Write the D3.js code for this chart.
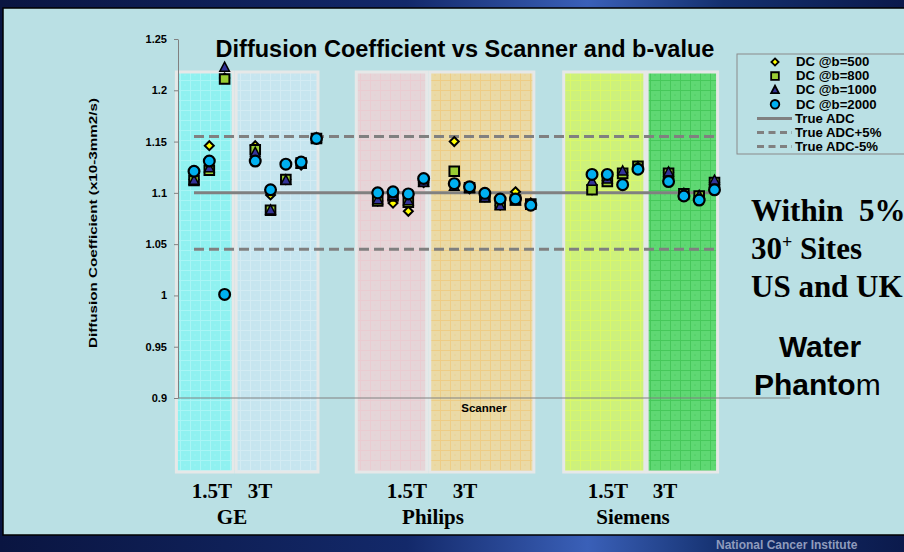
<!DOCTYPE html>
<html>
<head>
<meta charset="utf-8">
<script src="https://cdn.jsdelivr.net/npm/d3@7"></script>
<style>
body { margin: 0; background: #0b1a4a; }
svg { display: block; }
</style>
</head>
<body>
<svg class="chart" width="904" height="552"></svg>
<script>
// category slot of each site on the x axis (empty slots separate the scanners)
var slot = [0, 1, 2, 4, 5, 6, 7, 8, 12, 13, 14, 15, 17, 18, 19, 20, 21, 22, 26, 27, 28, 29, 31, 32, 33, 34];
var dc500  = [1.113, 1.146, 1.212, 1.146, 1.098, 1.113, 1.127, 1.153, 1.092, 1.090, 1.082, 1.110, 1.150, 1.104, 1.096, 1.088, 1.101, 1.090, 1.103, 1.112, 1.120, 1.125, 1.120, 1.099, 1.097, 1.110];
var dc800  = [1.112, 1.122, 1.211, 1.142, 1.083, 1.113, 1.129, 1.153, 1.092, 1.097, 1.091, 1.111, 1.121, 1.105, 1.096, 1.089, 1.093, 1.089, 1.103, 1.111, 1.119, 1.126, 1.119, 1.099, 1.097, 1.110];
var dc1000 = [1.112, 1.124, 1.222, 1.139, 1.083, 1.112, 1.128, 1.153, 1.093, 1.097, 1.092, 1.110, 1.106, 1.104, 1.095, 1.087, 1.092, 1.089, 1.111, 1.113, 1.121, 1.125, 1.120, 1.099, 1.097, 1.112];
var dc2000 = [1.121, 1.131, 1.001, 1.131, 1.103, 1.128, 1.130, 1.153, 1.100, 1.101, 1.099, 1.114, 1.109, 1.106, 1.0995, 1.094, 1.094, 1.088, 1.118, 1.118, 1.108, 1.123, 1.111, 1.097, 1.093, 1.103];
var trueADC = 1.1;
var yTicks = [0.9, 0.95, 1, 1.05, 1.1, 1.15, 1.2, 1.25];

// background bands, one per scanner and field strength (in slot units)
var bandName = ["GE 1.5T", "GE 3T", "Philips 1.5T", "Philips 3T", "Siemens 1.5T", "Siemens 3T"];
var bandFrom = [-1.15, 2.75, 10.6, 15.4, 24.15, 29.6];
var bandTo   = [2.55, 8.1, 15.2, 22.2, 29.45, 34.2];
var bandFill = ["#8ff1f0", "#c6e5ef", "#e5d5d8", "#eadaa6", "#cdf17c", "#5fd873"];
var bandGrid = ["#b4f6f6", "#d9eef5", "#edc9cf", "#f0c878", "#e0fb60", "#3cc250"];

var svg = d3.select(".chart");

// slide frame
var defs = svg.append("defs");
var grad = defs.append("linearGradient").attr("id", "slidebg");
grad.append("stop").attr("offset", "0%").attr("stop-color", "#0a1541");
grad.append("stop").attr("offset", "45%").attr("stop-color", "#13296a");
grad.append("stop").attr("offset", "65%").attr("stop-color", "#3a60b8");
grad.append("stop").attr("offset", "80%").attr("stop-color", "#14306e");
grad.append("stop").attr("offset", "100%").attr("stop-color", "#0b1a4c");

svg.append("rect").attr("width", 904).attr("height", 552).attr("fill", "url(#slidebg)");
svg.append("rect")
	.attr("x", 3).attr("y", 8)
	.attr("width", 920).attr("height", 527)
	.attr("fill", "#bae0e4")
	.attr("stroke", "#000")
	.attr("stroke-width", 1.5);

svg.append("text")
	.attr("x", 716).attr("y", 549)
	.attr("font-family", "Liberation Sans, Arial, sans-serif")
	.attr("font-size", 12)
	.attr("font-weight", "bold")
	.attr("fill", "#8f9bbd")
	.text("National Cancer Institute");

var x = d3.scaleLinear().domain([0, 34]).range([194, 714.5]);
var y = d3.scaleLinear().domain([0.9, 1.25]).range([398, 39]);

// grid patterns for the bands
bandName.forEach(function(name, i) {
	var p = defs.append("pattern")
		.attr("id", "band" + i)
		.attr("patternUnits", "userSpaceOnUse")
		.attr("width", 10).attr("height", 10);
	p.append("rect").attr("width", 10).attr("height", 10).attr("fill", bandFill[i]);
	p.append("path")
		.attr("d", "M0,0.5H10M0.5,0V10")
		.attr("stroke", bandGrid[i])
		.attr("stroke-width", 1)
		.attr("opacity", 0.7);
	p.append("circle").attr("cx", 5).attr("cy", 5).attr("r", 0.6).attr("fill", bandGrid[i]);
});

svg.selectAll(".band")
	.data(bandName)
	.enter()
	.append("rect")
	.attr("class", "band")
	.attr("x", (d, i) => x(bandFrom[i]))
	.attr("y", 72)
	.attr("width", (d, i) => x(bandTo[i]) - x(bandFrom[i]))
	.attr("height", 400)
	.attr("fill", (d, i) => "url(#band" + i + ")")
	.attr("stroke", "#e6e8e8")
	.attr("stroke-width", 3);

// y axis
var yAxis = d3.axisLeft(y)
	.tickValues(yTicks)
	.tickFormat(d3.format(""))
	.tickSize(4)
	.tickSizeOuter(0)
	.tickPadding(7);

var gy = svg.append("g")
	.attr("transform", "translate(178,0)")
	.call(yAxis);
gy.select(".domain").attr("stroke", "#808080");
gy.selectAll(".tick line").attr("stroke", "#808080");
gy.selectAll(".tick text")
	.attr("font-family", "Liberation Sans, Arial, sans-serif")
	.attr("font-size", 11)
	.attr("font-weight", "bold")
	.attr("fill", "#000");

svg.append("line")
	.attr("x1", 178).attr("x2", 790)
	.attr("y1", y(0.9)).attr("y2", y(0.9))
	.attr("stroke", "#808080")
	.attr("stroke-width", 1);

svg.append("text")
	.attr("transform", "translate(97," + 223 + ") rotate(-90)")
	.attr("text-anchor", "middle")
	.attr("font-family", "Liberation Sans, Arial, sans-serif")
	.attr("font-size", 11.5)
	.attr("font-weight", "bold")
	.attr("textLength", 250)
	.attr("lengthAdjust", "spacingAndGlyphs")
	.text("Diffusion Coefficient (x10-3mm2/s)");

svg.append("text")
	.attr("x", 484).attr("y", 412)
	.attr("text-anchor", "middle")
	.attr("font-family", "Liberation Sans, Arial, sans-serif")
	.attr("font-size", 11.5)
	.attr("font-weight", "bold")
	.text("Scanner");

svg.append("text")
	.attr("x", 465).attr("y", 57)
	.attr("text-anchor", "middle")
	.attr("font-family", "Liberation Sans, Arial, sans-serif")
	.attr("font-size", 23.5)
	.attr("font-weight", "bold")
	.text("Diffusion Coefficient vs Scanner and b-value");

// reference lines
var refLines = [
	{name: "True ADC", value: trueADC, dash: null},
	{name: "True ADC+5%", value: trueADC * 1.05, dash: "10,5"},
	{name: "True ADC-5%", value: trueADC * 0.95, dash: "10,5"}
];

svg.selectAll(".ref")
	.data(refLines)
	.enter()
	.append("line")
	.attr("class", "ref")
	.attr("x1", x(0)).attr("x2", x(34))
	.attr("y1", d => y(d.value)).attr("y2", d => y(d.value))
	.attr("stroke", "#808080")
	.attr("stroke-width", 3)
	.attr("stroke-dasharray", d => d.dash);

// markers
function diamond(s) { return "M0," + (-s) + "L" + s + ",0L0," + s + "L" + (-s) + ",0Z"; }
function square(s) { return "M" + (-s) + "," + (-s) + "H" + s + "V" + s + "H" + (-s) + "Z"; }
function triangle(s) { return "M0," + (-s * 1.15) + "L" + s + "," + (s * 0.75) + "L" + (-s) + "," + (s * 0.75) + "Z"; }
function circle(s) { return "M" + s + ",0A" + s + "," + s + " 0 1,1 " + (-s) + ",0A" + s + "," + s + " 0 1,1 " + s + ",0Z"; }

var series = [
	{name: "DC @b=500", values: dc500, shape: diamond, size: 4.5, fill: "#ffff00", sw: 2},
	{name: "DC @b=800", values: dc800, shape: square, size: 4.8, fill: "#99cc33", sw: 2},
	{name: "DC @b=1000", values: dc1000, shape: triangle, size: 4.8, fill: "#333399", sw: 1.5},
	{name: "DC @b=2000", values: dc2000, shape: circle, size: 5.4, fill: "#00b0f0", sw: 2.2}
];

series.forEach(function(s) {
	svg.append("g")
		.selectAll("path")
		.data(s.values)
		.enter()
		.append("path")
		.attr("transform", (d, i) => "translate(" + x(slot[i]) + "," + y(d) + ")")
		.attr("d", s.shape(s.size))
		.attr("fill", s.fill)
		.attr("stroke", "#000")
		.attr("stroke-width", s.sw);
});

// legend
var legend = svg.append("g").attr("transform", "translate(737,54)");
legend.append("rect")
	.attr("width", 170).attr("height", 100)
	.attr("fill", "none")
	.attr("stroke", "#8a8a8a")
	.attr("stroke-width", 1);

var legendItems = series.map(d => ({name: d.name, series: d}))
	.concat(refLines.map(d => ({name: d.name, ref: d})));

var item = legend.selectAll(".item")
	.data(legendItems)
	.enter()
	.append("g")
	.attr("class", "item")
	.attr("transform", (d, i) => "translate(0," + (8 + i * 14.1) + ")");

item.filter(d => d.series)
	.append("path")
	.attr("transform", "translate(38,0)")
	.attr("d", d => d.series.shape(d.series.size * 0.8))
	.attr("fill", d => d.series.fill)
	.attr("stroke", "#000")
	.attr("stroke-width", 1.8);

item.filter(d => d.ref)
	.append("line")
	.attr("x1", 20).attr("x2", 55)
	.attr("stroke", "#808080")
	.attr("stroke-width", 3)
	.attr("stroke-dasharray", d => d.ref.dash ? "7,4.5" : null);

item.append("text")
	.attr("dy", "0.35em")
	.attr("font-family", "Liberation Sans, Arial, sans-serif")
	.attr("font-size", 12)
	.attr("font-weight", "bold")
	.attr("transform", "scale(1.1,1)")
	.attr("x", d => (d.series ? 59 : 58) / 1.1)
	.text(d => d.name);

// scanner / field strength labels
var fieldLabels = [
	{text: "1.5T", x: 212}, {text: "3T", x: 260},
	{text: "1.5T", x: 407}, {text: "3T", x: 465},
	{text: "1.5T", x: 608}, {text: "3T", x: 665}
];
var vendorLabels = [{text: "GE", x: 232}, {text: "Philips", x: 433}, {text: "Siemens", x: 633}];

svg.selectAll(".field")
	.data(fieldLabels)
	.enter()
	.append("text")
	.attr("class", "field")
	.attr("x", d => d.x).attr("y", 498)
	.attr("text-anchor", "middle")
	.attr("font-family", "Liberation Serif, Times New Roman, serif")
	.attr("font-size", 21)
	.attr("font-weight", "bold")
	.text(d => d.text);

svg.selectAll(".vendor")
	.data(vendorLabels)
	.enter()
	.append("text")
	.attr("class", "vendor")
	.attr("x", d => d.x).attr("y", 524)
	.attr("text-anchor", "middle")
	.attr("font-family", "Liberation Serif, Times New Roman, serif")
	.attr("font-size", 21)
	.attr("font-weight", "bold")
	.text(d => d.text);

// notes on the right
var notes = svg.append("g")
	.attr("font-family", "Liberation Serif, Times New Roman, serif")
	.attr("font-size", 31)
	.attr("font-weight", "bold");
notes.append("text").attr("x", 751).attr("y", 221).attr("xml:space", "preserve").text("Within  5%");
var t30 = notes.append("text").attr("x", 751).attr("y", 259);
t30.append("tspan").text("30");
t30.append("tspan").attr("font-size", 18).attr("dy", -11).text("+");
t30.append("tspan").attr("dy", 11).text(" Sites");
notes.append("text").attr("x", 751).attr("y", 297).text("US and UK");

var water = svg.append("g")
	.attr("font-family", "Liberation Sans, Arial, sans-serif")
	.attr("font-size", 30);
water.append("text").attr("x", 820).attr("y", 357)
	.attr("text-anchor", "middle").attr("font-weight", "bold").text("Water");
var ph = water.append("text").attr("x", 754).attr("y", 395);
ph.append("tspan").attr("font-weight", "bold").text("Phanto");
ph.append("tspan").text("m");
</script>
</body>
</html>
